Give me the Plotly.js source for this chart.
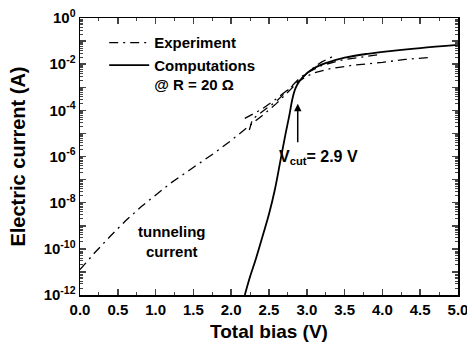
<!DOCTYPE html>
<html>
<head>
<meta charset="utf-8">
<script src="https://cdn.plot.ly/plotly-3.0.1.min.js"></script>
<style>html,body{margin:0;padding:0;background:#fff;}#chart{width:467px;height:352px;}</style>
</head>
<body>
<div id="chart"></div>
<script>
// Experiment: long tunneling sweep
const expA_V = [0, 0.2, 0.4, 0.6, 0.8, 1.0, 1.2, 1.4, 1.6, 1.8, 2.0, 2.2, 2.4, 2.6, 2.8, 2.9, 3.0, 3.1, 3.2, 3.35];
const expA_I = [1.26e-11, 7.1e-11, 3.5e-10, 1.6e-9, 6.3e-9, 2.2e-8, 7.1e-8, 2.0e-7, 5.6e-7, 1.6e-6, 5.0e-6, 1.6e-5, 5.6e-5, 2.0e-4, 8.9e-4, 2.0e-3, 4.0e-3, 7.6e-3, 1.26e-2, 2.2e-2];
// Experiment: lower (saturating) branch
const expB_V = [2.18, 2.4, 2.6, 2.8, 2.9, 3.0, 3.1, 3.3, 3.6, 4.0, 4.3, 4.65];
const expB_I = [4.5e-5, 1.1e-4, 3.2e-4, 1.0e-3, 1.9e-3, 3.0e-3, 4.2e-3, 6.3e-3, 8.9e-3, 1.2e-2, 1.6e-2, 2.0e-2];
// Experiment: middle branch
const expC_V = [2.24, 2.28, 2.4, 2.6, 2.8, 2.9, 3.0, 3.2, 3.5, 3.93];
const expC_I = [1.4e-5, 4.0e-5, 8.3e-5, 2.5e-4, 1.1e-3, 2.4e-3, 4.2e-3, 8.9e-3, 1.6e-2, 2.5e-2];
// Computations @ R = 20 Ohm
const comp_V = [2.18, 2.25, 2.33, 2.42, 2.5, 2.58, 2.65, 2.72, 2.77, 2.81, 2.85, 2.9, 3.0, 3.1, 3.25, 3.5, 3.8, 4.1, 4.5, 5.0];
const comp_I = [1e-12, 6.3e-12, 4e-11, 4e-10, 3.2e-9, 4e-8, 6.3e-7, 1e-5, 6.3e-5, 3.2e-4, 8.9e-4, 1.8e-3, 4.0e-3, 6.8e-3, 1.1e-2, 1.9e-2, 2.8e-2, 3.7e-2, 5.0e-2, 6.8e-2];

const yTickVals = [1e-12,1e-11,1e-10,1e-9,1e-8,1e-7,1e-6,1e-5,1e-4,1e-3,1e-2,1e-1,1];
const yTickText = ['10<sup>-12</sup>','','10<sup>-10</sup>','','10<sup>-8</sup>','','10<sup>-6</sup>','','10<sup>-4</sup>','','10<sup>-2</sup>','','10<sup>0</sup>'];
const xTickVals = [0,0.5,1,1.5,2,2.5,3,3.5,4,4.5,5];
const xTickText = ['0.0','0.5','1.0','1.5','2.0','2.5','3.0','3.5','4.0','4.5','5.0'];
const xMinorTicks = [0.25,0.75,1.25,1.75,2.25,2.75,3.25,3.75,4.25,4.75];
const yMinorTicks = [];
for (let e = -12; e < 0; e++) { for (let m = 2; m <= 9; m++) yMinorTicks.push(m * Math.pow(10, e)); }

const dd = '9px,5px,2px,5px';
const traces = [
  {x: expA_V, y: expA_I, mode:'lines', name:'Experiment', line:{color:'#000', width:1.3, dash:dd}},
  {x: expB_V, y: expB_I, mode:'lines', showlegend:false, line:{color:'#000', width:1.3, dash:dd}},
  {x: expC_V, y: expC_I, mode:'lines', showlegend:false, line:{color:'#000', width:1.3, dash:dd}},
  {x: comp_V, y: comp_I, mode:'lines', name:'Computations<br>@ R = 20 Ω', line:{color:'#000', width:1.8, shape:'spline'}},
  {x:[null], y:[null], xaxis:'x2', yaxis:'y2', mode:'lines', showlegend:false, hoverinfo:'skip'}
];

const fam = 'Liberation Sans, Arial, sans-serif';
const layout = {
  width:467, height:352,
  margin:{l:80, r:9, t:18, b:57},
  paper_bgcolor:'#fff', plot_bgcolor:'#fff',
  font:{family:fam, size:15, color:'#000', weight:'bold'},
  showlegend:true,
  legend:{x:0.064, y:0.97, xanchor:'left', yanchor:'top', bgcolor:'rgba(0,0,0,0)', valign:'top',
          font:{family:fam, size:15, color:'#000', weight:'bold'}, tracegroupgap:0, itemwidth:40},
  xaxis:{range:[0,5], tickmode:'array', tickvals:xTickVals, ticktext:xTickText,
         ticks:'inside', ticklen:6, tickwidth:1.5, showline:true, linewidth:1.5, linecolor:'#000',
         mirror:'allticks', showgrid:false, zeroline:false, ticklabeloverflow:'allow',
         tickfont:{family:fam, size:15, weight:'bold'},
         title:{text:'Total bias (V)', font:{family:fam, size:19, weight:'bold'}, standoff:8}},
  yaxis:{type:'log', range:[-12,0], tickmode:'array', tickvals:yTickVals, ticktext:yTickText,
         ticks:'inside', ticklen:6, tickwidth:1.5, showline:true, linewidth:1.5, linecolor:'#000',
         mirror:'allticks', showgrid:false, zeroline:false, ticklabeloverflow:'allow',
         tickfont:{family:fam, size:15, weight:'bold'},
         title:{text:'Electric current (A)', font:{family:fam, size:20, weight:'bold'}, standoff:12}},
  xaxis2:{overlaying:'x', anchor:'y2', side:'bottom', range:[0,5], tickmode:'array', tickvals:xMinorTicks,
          ticks:'inside', ticklen:3, tickwidth:1, showticklabels:false, showline:true, linecolor:'#000', linewidth:1.5,
          mirror:'ticks', showgrid:false, zeroline:false},
  yaxis2:{overlaying:'y', anchor:'x2', side:'left', type:'log', range:[-12,0], tickmode:'array', tickvals:yMinorTicks,
          ticks:'inside', ticklen:3, tickwidth:1, showticklabels:false, showline:true, linecolor:'#000', linewidth:1.5,
          mirror:'ticks', showgrid:false, zeroline:false},
  annotations:[
    {x:2.88, y:-3.72, ax:0, ay:40, xref:'x', yref:'y', text:'', showarrow:true,
     arrowhead:2, arrowsize:1, arrowwidth:1.5, arrowcolor:'#000'},
    {x:2.61, y:-6.05, xref:'x', yref:'y', xanchor:'left', yanchor:'middle', showarrow:false,
     text:'V<sub>cut</sub>= 2.9 V', font:{family:fam, size:16, weight:'bold'}},
    {x:1.22, y:-9.67, xref:'x', yref:'y', xanchor:'center', yanchor:'middle', showarrow:false,
     text:'tunneling<br>current', font:{family:fam, size:15, weight:'bold'}}
  ]
};
Plotly.newPlot('chart', traces, layout, {staticPlot:true, displayModeBar:false});
</script>
</body>
</html>
